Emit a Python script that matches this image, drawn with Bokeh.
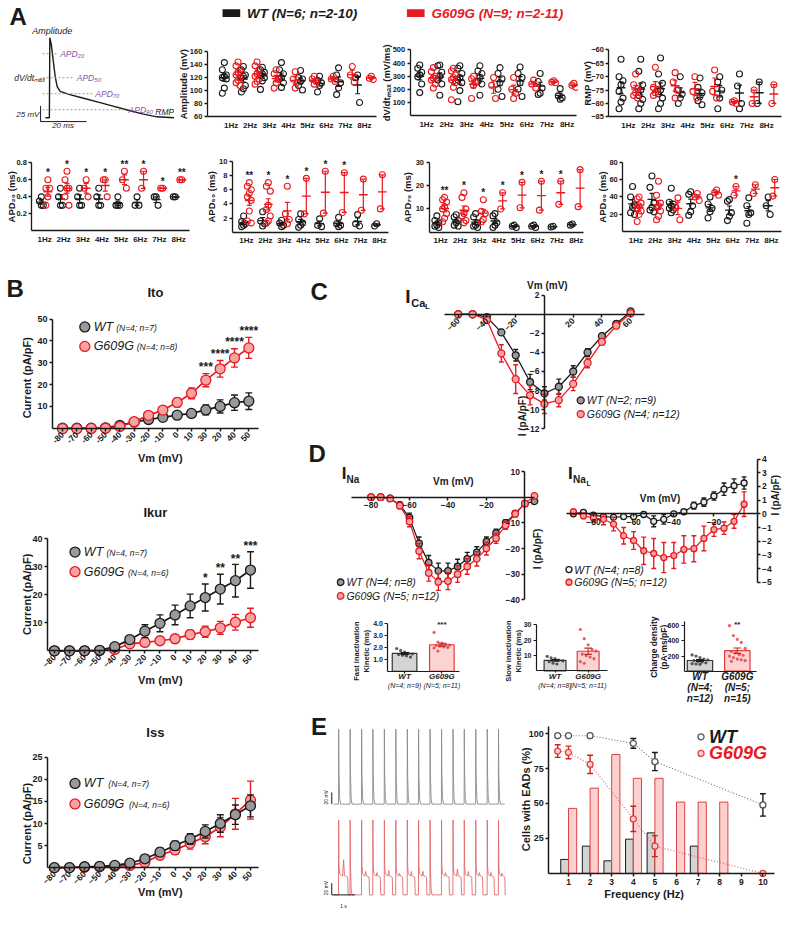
import numpy as np
from bokeh.plotting import figure
from bokeh.models import Range1d, LinearAxis, FixedTicker
from bokeh.layouts import row, column
from bokeh.core.properties import value
from bokeh.embed import file_html
from bokeh.resources import INLINE

# ============================ DATA ============================
freq = [1, 2, 3, 4, 5, 6, 7, 8]
freq_labels = ["1Hz", "2Hz", "3Hz", "4Hz", "5Hz", "6Hz", "7Hz", "8Hz"]

amp_wt = [[143, 132, 124, 122, 120, 118, 104, 96], [137, 132, 124, 122, 120, 108, 103, 98],
          [136, 132, 128, 126, 124, 120, 115, 102], [143, 132, 126, 120, 118, 112, 105],
          [131, 120, 118, 114, 108, 101], [122, 116, 112, 108, 98], [135, 124, 112, 104, 94], [124, 120, 82]]
amp_g = [[144, 138, 132, 128, 124, 120, 116, 112, 108], [144, 138, 132, 126, 122, 118, 114, 110],
         [132, 126, 118, 112, 104], [129, 118, 112, 104], [122, 118, 114, 110], [122, 118, 114],
         [137, 124, 113], [122, 119, 117]]
dvdt_wt = [[385, 360, 330, 310, 295, 240, 175], [385, 380, 330, 300, 270, 240, 155],
           [380, 360, 320, 290, 270, 250, 190, 105], [380, 340, 320, 290, 260, 240, 155],
           [365, 320, 280, 250, 200, 145], [370, 320, 290, 250, 200, 145], [320, 260, 210, 170, 160],
           [205, 150, 135, 125]]
dvdt_g = [[365, 335, 300, 285, 270, 240, 210], [360, 340, 310, 290, 275, 250, 215, 120],
          [300, 280, 250, 230, 130], [290, 230, 130], [290, 200, 170, 130], [270, 240, 210],
          [265, 255, 250], [245, 230, 215]]
rmp_wt = [[-63.5, -70, -71.5, -73, -75.5, -78, -79.5, -82], [-63.5, -68, -73, -75, -77, -78.5, -80, -82],
          [-63, -69, -72.5, -75, -76.5, -78, -80, -82], [-70, -75, -76.5, -78, -80],
          [-70.5, -74, -76, -77.5, -79, -80.5], [-70, -72, -75, -78, -82], [-69, -73.5, -80, -82], [-72, -80]]
rmp_g = [[-69, -73, -74.5, -76, -77, -78], [-66.5, -74, -75, -76, -77], [-68.5, -72, -75, -78],
         [-70, -75.5, -78], [-67.5, -75.5, -78], [-79, -79.5, -80], [-75, -80], [-73, -80]]

apd20_wt = [[0.4, 0.35, 0.3, 0.3], [0.5, 0.4, 0.3, 0.3], [0.5, 0.4, 0.3, 0.3], [0.5, 0.4, 0.3, 0.3],
            [0.4, 0.3, 0.3, 0.3], [0.4, 0.3, 0.3], [0.4, 0.4, 0.3], [0.4, 0.4]]
apd20_g = [[0.6, 0.5, 0.5, 0.4, 0.3], [0.7, 0.6, 0.5, 0.5, 0.4, 0.3], [0.6, 0.5, 0.4], [0.6, 0.6, 0.4],
           [0.7, 0.6, 0.5], [0.7, 0.5], [0.5, 0.5], [0.6, 0.6]]
apd20_sig = ["*", "*", "*", "*", "**", "*", "*", "**"]
apd50_wt = [[2.3, 1.5, 1.2, 1.0, 0.8], [2.9, 1.6, 1.2, 0.9], [1.7, 1.3, 1.0, 0.8], [2.6, 1.8, 1.3, 1.0, 0.7],
            [1.9, 1.0, 0.8], [2.1, 1.2, 1.0, 0.8], [2.5, 1.2, 0.9], [1.2, 0.9]]
apd50_g = [[7.0, 6.5, 6.0, 5.5, 5.0, 4.5, 3.0, 1.6, 1.3], [7.0, 6.5, 5.8, 3.8, 3.2, 2.3, 1.6, 1.3],
           [6.5, 2.6, 1.8, 1.2], [7.6, 2.6], [8.6, 2.7], [8.4, 2.8], [7.5, 3.1], [8.1, 3.3]]
apd50_sig = ["**", "*", "*", "*", "*", "*", "", ""]
apd70_wt = [[7, 5, 4, 3, 2.5, 2], [7.5, 6.5, 5, 4, 3, 2.5], [8, 6.5, 4, 3, 2.5, 2], [8, 7, 4, 3, 2],
            [3, 2.5, 2], [3, 2.5, 2], [2.5, 2.2], [3.5, 3]]
apd70_g = [[15, 14, 13, 11, 10, 8, 6, 4.5], [17, 15, 10, 8, 7, 5, 4], [14, 9, 8, 5.5, 4.5], [17, 10],
           [21.5, 10.5], [22, 9.5], [22, 12], [27, 11]]
apd70_sig = ["**", "*", "*", "*", "*", "*", "*", ""]
apd90_wt = [[52, 40, 31, 28, 22, 20], [64, 51, 33, 28, 25, 23], [50, 34, 32, 30, 27, 25, 22],
            [46, 43, 30, 23, 19], [40, 32, 27, 23, 16], [37, 35, 22, 18, 13], [39, 30, 22, 20, 10], [40, 30, 20]]
apd90_g = [[40, 38, 33, 30, 27, 24, 20, 12], [58, 42, 33, 30, 28, 24, 18, 14], [39, 28, 14], [44, 40, 36],
           [48, 45, 42], [52, 42], [54, 44], [60, 41]]
apd90_sig = ["", "", "", "", "", "*", "", ""]

# AP schematic (ms, mV)
ap_t = [-1.7, 0, 0.2, 0.85, 1.7, 2.55, 3.4, 4.7, 8.5, 14.9, 21.3, 27.7, 34, 40.4, 46.8, 55.3]
ap_v = [-80, -80, 48, 37, 10.6, -14.4, -30, -37.8, -42.5, -48.8, -55, -61.3, -67.5, -73.8, -78.4, -80]
apd_levels = [20, 50, 70, 90]
apd_names = ["APD\u2082\u2080", "APD\u2085\u2080", "APD\u2087\u2080", "APD\u2089\u2080"]
scale_mv, scale_ms = 25, 20

# Panel B (Vm in mV, current in pA/pF)
vm14 = [-80, -70, -60, -50, -40, -30, -20, -10, 0, 10, 20, 30, 40, 50]
ito_xlabels = ["-80", "-70", "-60", "-50", "-40", "-30", "-20", "-10", "0", "10", "30", "20", "40", "50"]
ito_wt = [0, 0, 0, 0.2, 1.3, 2.8, 4.0, 5.0, 6.0, 6.8, 8.4, 10.0, 11.7, 12.4]
ito_wt_e = [0.2, 0.2, 0.2, 0.3, 0.4, 0.6, 0.8, 1.0, 1.2, 1.7, 2.3, 3.0, 3.5, 3.8]
ito_g = [-0.2, -0.2, -0.1, 0, 0.8, 3.0, 5.9, 8.3, 11.8, 16.0, 22.0, 27.2, 32.2, 36.8]
ito_g_e = [0.2, 0.2, 0.2, 0.3, 0.4, 0.7, 1.0, 1.5, 2.0, 2.5, 3.0, 3.8, 4.2, 4.8]
ito_sig = ["", "", "", "", "", "", "", "", "", "", "***", "****", "****", "****"]

ikur_wt = [0, 0, 0, 0.2, 1.5, 4.0, 7.0, 9.8, 12.8, 16.0, 19.0, 22.0, 25.0, 28.8]
ikur_wt_e = [0.2, 0.2, 0.2, 0.3, 0.5, 1.2, 2.3, 3.0, 3.5, 4.2, 4.8, 5.3, 5.8, 6.5]
ikur_g = [0, 0, 0, 0.1, 0.5, 2.5, 3.0, 3.6, 4.3, 5.8, 6.8, 8.2, 10.2, 11.8]
ikur_g_e = [0.2, 0.2, 0.2, 0.2, 0.4, 0.8, 1.0, 1.2, 1.4, 1.6, 2.0, 2.3, 2.8, 3.4]
ikur_sig = ["", "", "", "", "", "", "", "", "", "", "*", "**", "**", "***"]

iss_wt = [0, 0, 0.2, 0.3, 0.5, 1.0, 2.0, 3.5, 5.0, 6.5, 8.2, 10.0, 12.0, 14.0]
iss_wt_e = [0.2, 0.2, 0.2, 0.3, 0.4, 0.5, 0.7, 0.9, 1.0, 1.2, 1.5, 2.0, 2.2, 2.5]
iss_g = [0, 0, 0.1, 0.2, 0.3, 0.5, 1.2, 2.8, 4.0, 5.5, 7.0, 9.2, 12.2, 15.3]
iss_g_e = [0.2, 0.2, 0.2, 0.2, 0.3, 0.4, 0.6, 0.8, 1.0, 1.3, 1.6, 2.2, 3.5, 4.3]

# Panel C
cal_vm = [-60, -50, -40, -30, -20, -10, 0, 10, 20, 30, 40, 50, 60]
cal_wt = [0, 0, -0.3, -1.9, -4.3, -7.1, -8.3, -7.6, -6.0, -4.0, -2.3, -1.0, 0.3]
cal_wt_e = [0.05, 0.05, 0.2, 0.3, 0.6, 0.8, 0.7, 0.8, 0.6, 0.4, 0.3, 0.2, 0.1]
cal_g = [0, 0, -0.6, -4.1, -6.8, -8.5, -9.4, -9.0, -7.3, -5.1, -2.9, -1.2, 0.1]
cal_g_e = [0.05, 0.05, 0.2, 0.9, 1.5, 1.0, 1.0, 0.7, 0.7, 0.5, 0.3, 0.2, 0.1]

# Panel D
ina_vm = [-80, -75, -70, -65, -60, -55, -50, -45, -40, -35, -30, -25, -20, -15, -10, -5, 0, 5]
ina_wt = [0, 0, -0.5, -3, -8, -18, -25.5, -28.7, -28.7, -27, -24, -21.5, -17.3, -14, -10, -6.3, -2.5, -1.6]
ina_wt_e = [0.3, 0.3, 0.5, 1, 1.8, 2.5, 2.8, 3, 3, 2.8, 2.5, 2.2, 1.8, 1.5, 1.2, 1, 0.8, 0.6]
ina_g = [0, 0, -0.5, -3.3, -9.5, -21, -29.5, -33, -32.7, -30, -27, -24, -20, -16, -11, -6.5, -2.5, 0.5]
ina_g_e = [0.3, 0.3, 0.5, 1.2, 2, 3, 3.2, 3.3, 3.3, 3.2, 3, 2.8, 2.5, 2, 1.5, 1.2, 1, 0.8]

inal_vm = [-90, -85, -80, -75, -70, -65, -60, -55, -50, -45, -40, -35, -30, -25, -20, -15, -10, -5]
inal_wt = [0, 0.1, -0.1, -0.2, -0.25, -0.2, -0.2, -0.05, -0.55, -0.4, 0, 0.15, 0.6, 0.85, 1.3, 1.8, 2.05, 2.25]
inal_wt_e = [0.1, 0.15, 0.1, 0.15, 0.15, 0.15, 0.15, 0.15, 0.4, 0.35, 0.1, 0.15, 0.25, 0.3, 0.3, 0.45, 0.5, 0.45]
inal_g = [0.15, -0.15, -0.3, -0.4, -0.75, -1.6, -1.95, -2.7, -2.9, -3.2, -3.05, -2.6, -2.55, -1.8, -1.15, -1.05, -0.55, 0.7]
inal_g_e = [0.1, 0.2, 0.3, 0.4, 0.5, 0.6, 0.65, 1.0, 1.1, 1.1, 0.95, 1.0, 0.95, 0.9, 0.5, 0.45, 0.5, 0.9]

fast_wt = [1.9, 1.75, 1.6, 1.5, 1.45, 1.4, 1.35, 1.3, 1.2]
fast_g = [3.25, 2.45, 2.35, 2.25, 2.2, 2.15, 2.1, 2.05, 2.0, 1.95, 1.7]
slow_wt = [9.5, 8.5, 8, 7, 6.5, 6, 5, 4.5]
slow_g = [27, 21, 17, 14, 13, 11, 10, 9, 8, 6, 5]
charge_wt = [215, 200, 180, 160, 150, 140, 130, 120, 110, 100, 95, 90]
charge_g = [600, 470, 420, 380, 300, 260, 240, 220, 210, 200, 180, 160, 150, 140, 130]

# Panel E
wt_spikes = [0.21, 0.71, 1.21, 1.70, 2.20, 2.70, 3.20, 3.69, 4.19, 4.69, 5.19, 5.68, 6.18, 6.68, 7.17]
g_spikes = [0.21, 0.71, 1.21, 1.70, 2.20, 2.70, 3.20, 3.69, 4.19, 4.69, 5.19, 5.68, 6.18, 6.68, 7.17]
g_plateau = [0.40, 0.0, 0.33, 0.33, 0.35, 0.30, 0.33, 0.35, 0.0, 0.33, 0.36, 0.33, 0.30, 0.30, 0.28]
g_ead_bump = [28, 0, 8, 6, 10, 5, 8, 8, 0, 6, 12, 8, 6, 6, 5]
trace_end = 7.45

ead_f = [1, 2, 3, 4, 5, 6, 7, 8, 9, 10]
ead_wt_bar = [10, 19.5, 9, 24.5, 29, 0, 19.5, 0, 0, 0]
ead_g_bar = [46.5, 61, 85, 68, 68, 51, 51, 51, 0, 0]
line_f = [0.5, 1, 2, 4, 5, 10]
wt_line = [98.5, 98.5, 98.5, 93, 80, 49]
wt_line_e = [0, 0, 0, 3.5, 6.5, 8]
g_line = [87.5, 86.5, 78, 39, 19.5, 0]
g_line_e = [4.5, 4.5, 6.5, 9, 7.5, 0]

# ============================ STYLE / HELPERS ============================
FONT = "Liberation Sans"
BLK = "#1a1a1a"
RED = "#e8191f"
GREY_FILL = "#9a9a9a"
PINK_FILL = "#f6a3a3"
PURPLE = "#7f55b0"
S = 0.98


class Panel:
    def __init__(self, x0, x1, y0, y1, xmap=(0, 0, 1, 1), ymap=(0, 0, 1, 1)):
        self.x0, self.x1, self.y0, self.y1 = x0, x1, y0, y1
        self.kx = (xmap[2] - xmap[0]) / (xmap[3] - xmap[1])
        self.xa = xmap[:2]
        self.ky = (ymap[2] - ymap[0]) / (ymap[3] - ymap[1])
        self.ya = ymap[:2]
        w = round(x1 * S) - round(x0 * S)
        h = round(y1 * S) - round(y0 * S)
        self.p = figure(width=w, height=h,
                        x_range=Range1d(self.X(x0), self.X(x1)),
                        y_range=Range1d(self.Y(y1), self.Y(y0)),
                        x_axis_type=None, y_axis_type=None, title=None,
                        output_backend="svg", toolbar_location=None, min_border=0)
        self.p.outline_line_color = None

    def X(self, px):
        return self.xa[0] + (px - self.xa[1]) * self.kx

    def Y(self, py):
        return self.ya[0] + (py - self.ya[1]) * self.ky

    def PY(self, v):
        return self.ya[1] + (v - self.ya[0]) / self.ky

    def dx(self, n):
        return n * self.kx

    def dy(self, n):
        return -n * self.ky


def txt(P, px, py, s, size=10, color=BLK, style="bold", align="center", base="middle", angle=0.0):
    P.p.text(x=[P.X(px)], y=[P.Y(py)], text=[s], text_font=value(FONT), text_font_size=f"{size}px",
             text_font_style=style, text_color=color, text_align=align, text_baseline=base, angle=angle)


def axis(P, side, loc, bounds, ticks, overrides=None, size=9, orient="horizontal", tick_out=3, lw=1.5,
         standoff=2):
    ax = LinearAxis(fixed_location=loc, bounds=bounds, ticker=FixedTicker(ticks=ticks))
    ax.axis_line_width = lw
    ax.axis_line_color = BLK
    ax.major_tick_line_width = lw
    ax.major_tick_line_color = BLK if tick_out > 0 else None
    ax.major_tick_out = tick_out
    ax.major_tick_in = 0
    ax.minor_tick_line_color = None
    ax.major_label_text_font = FONT
    ax.major_label_text_font_size = f"{size}px"
    ax.major_label_text_font_style = "bold"
    ax.major_label_text_color = BLK
    ax.major_label_standoff = standoff
    ax.major_label_orientation = orient
    if overrides:
        ax.major_label_overrides = overrides
    P.p.add_layout(ax, side)
    return ax


def errbars(P, xs, ms, es, color, cap_px=3.0, lw=1.2):
    x = np.asarray(xs, float)
    m = np.asarray(ms, float)
    e = np.asarray(es, float)
    cw = P.dx(cap_px)
    P.p.segment(x, m - e, x, m + e, line_color=color, line_width=lw)
    P.p.segment(x - cw, m + e, x + cw, m + e, line_color=color, line_width=lw)
    P.p.segment(x - cw, m - e, x + cw, m - e, line_color=color, line_width=lw)


JIT = [0.0, -2.0, 2.0]


def dot_plot(P, ax_px, right_px, ybot, ytop, yticks, wt, g, off, ylab, ylab_px, sig=None):
    xa = P.X(ax_px)
    axis(P, "left", xa, (ybot, ytop), yticks, size=7.5, lw=1.3)
    axis(P, "below", ybot, (xa, P.X(right_px)), freq, overrides=dict(zip(freq, freq_labels)), tick_out=0,
         standoff=4, size=8, lw=1.3)
    for groups, sgn, col in ((wt, -1, BLK), (g, 1, RED)):
        xs, ys, mx, mm, me = [], [], [], [], []
        for f, vals in zip(freq, groups):
            c = f + sgn * off
            for j, v in enumerate(vals):
                xs.append(c + P.dx(JIT[j % 3]))
                ys.append(v)
            a = np.asarray(vals, float)
            mx.append(c)
            mm.append(a.mean())
            me.append(a.std(ddof=1) / np.sqrt(len(a)) if len(a) > 1 else 0.0)
        P.p.scatter(xs, ys, size=6, marker="circle", fill_color=None, line_color=col, line_width=1.1)
        mx = np.asarray(mx)
        mm = np.asarray(mm)
        hw = P.dx(4.5)
        P.p.segment(mx - hw, mm, mx + hw, mm, line_color=col, line_width=1.4)
        errbars(P, mx, mm, me, col, cap_px=2.5, lw=1.2)
    if sig:
        for f, vals, s in zip(freq, g, sig):
            if s:
                P.p.text(x=[f + off], y=[max(vals) + P.dy(7)], text=[s], text_font=value(FONT),
                         text_font_size="10px", text_font_style="bold", text_color=BLK,
                         text_align="center", text_baseline="middle")
    ymid_px = (P.PY(ybot) + P.PY(ytop)) / 2
    txt(P, ylab_px, ymid_px, ylab, size=9.5, angle=np.pi / 2)


def iv_series(P, vm, m, e, col, fill, size, cap_px, lw=1.6):
    P.p.line(vm, m, line_color=col, line_width=lw)
    errbars(P, vm, m, e, col, cap_px, lw=1.4)
    P.p.scatter(vm, m, size=size, marker="circle", fill_color=fill, line_color=col, line_width=1.3)


def legend_entry(P, px, py, col, fill, size, label, lsize, lcolor=BLK, style="italic", gap=None):
    P.p.scatter([P.X(px)], [P.Y(py)], size=size, marker="circle", fill_color=fill, line_color=col,
                line_width=1.3)
    g = size * 0.9 if gap is None else gap
    txt(P, px + g, py, label, size=lsize, color=lcolor, style=style, align="left")


def stars(P, xs, tops, sig, pad_px, size=12):
    for x, t, s in zip(xs, tops, sig):
        if s:
            P.p.text(x=[x], y=[t + P.dy(pad_px)], text=[s], text_font=value(FONT), text_font_size=f"{size}px",
                     text_font_style="bold", text_color=BLK, text_align="center", text_baseline="middle")


# ============================ PANEL A ============================
TOP_B = 134
F_ap = Panel(0, 178, 0, TOP_B, xmap=(0, 50, 20, 97), ymap=(-80, 120, -55, 104))
p = F_ap.p
txt(F_ap, 18, 16, "A", size=24)
p.line(ap_t, ap_v, line_color=BLK, line_width=1.4)
peak, rest = max(ap_v), ap_v[0]
apd_end_px = [58, 75, 94, 128]
for lvl, nm, e_px in zip(apd_levels, apd_names, apd_end_px):
    lv = peak - lvl / 100 * (peak - rest)
    p.line([F_ap.X(43), F_ap.X(e_px)], [lv, lv], line_color="#9a9a9a", line_width=1, line_dash="2 2")
    p.text(x=[F_ap.X(e_px + 3)], y=[lv], text=[nm], text_font=value(FONT), text_font_size="8.5px",
           text_font_style="italic", text_color=PURPLE, text_align="left", text_baseline="middle")
sb_x, sb_v = F_ap.X(41), rest - 6
p.line([sb_x, sb_x, sb_x + scale_ms], [sb_v + scale_mv, sb_v, sb_v], line_color=BLK, line_width=1)
txt(F_ap, 53, 31, "Amplitude", size=9, style="italic")
txt(F_ap, 30, 79, "dV/dt\u2098\u2090\u2093", size=8.5, style="italic")
txt(F_ap, 168, 114, "RMP", size=8.5, style="italic")
txt(F_ap, 28, 117, f"{scale_mv} mV", size=8, style="italic")
txt(F_ap, 64, 128, f"{scale_ms} ms", size=8, style="italic")

F_leg = Panel(178, 800, 0, 38)
F_leg.p.rect([236], [13], width=18, height=8, fill_color=BLK, line_color=None)
txt(F_leg, 252, 13, "WT (N=6; n=2-10)", size=13.5, style="bold italic", align="left")
F_leg.p.rect([424], [13], width=18, height=8, fill_color=RED, line_color=None)
txt(F_leg, 440, 13, "G609G (N=9; n=2-11)", size=13.5, color=RED, style="bold italic", align="left")

F_amp = Panel(178, 386, 38, TOP_B, xmap=(1, 235.8, 8, 371.7), ymap=(160, 52.3, 60, 119))
dot_plot(F_amp, 211.5, 384, 60, 160, [60, 80, 100, 120, 140, 160], amp_wt, amp_g, 0.36,
         "Amplitude (mV)", 187)
F_dvdt = Panel(386, 590, 38, TOP_B, xmap=(1, 435, 8, 578.3), ymap=(500, 50.7, 100, 104.3))
dot_plot(F_dvdt, 418.3, 588, 0, 500, [100, 200, 300, 400, 500], dvdt_wt, dvdt_g, 0.34,
         "dV/dt\u2098\u2090\u2093 (mV/ms)", 394)
F_rmp = Panel(590, 800, 38, TOP_B, xmap=(1, 640.8, 8, 781.7), ymap=(-60, 50.7, -85, 119))
dot_plot(F_rmp, 621, 797, -85, -60, [-85, -80, -75, -70, -65, -60], rmp_wt, rmp_g, 0.37,
         "RMP (mV)", 599)

F_a20 = Panel(0, 200, TOP_B, 262, xmap=(1, 45, 8, 181.7), ymap=(0.8, 165.7, 0.2, 217.7))
dot_plot(F_a20, 32, 193, 0, 0.8, [0.2, 0.4, 0.6, 0.8], apd20_wt, apd20_g, 0.17,
         "APD\u2082\u2080 (ms)", 11, apd20_sig)
F_a50 = Panel(200, 400, TOP_B, 262, xmap=(1, 251, 8, 386.7), ymap=(10, 164.3, 2, 222))
dot_plot(F_a50, 236.7, 396, 0, 10, [2, 4, 6, 8, 10], apd50_wt, apd50_g, 0.15,
         "APD\u2085\u2080 (ms)", 215, apd50_sig)
F_a70 = Panel(400, 600, TOP_B, 262, xmap=(1, 449.2, 8, 587.5), ymap=(30, 165.7, 10, 212.7))
dot_plot(F_a70, 437.3, 595, 0, 30, [10, 20, 30], apd70_wt, apd70_g, 0.2,
         "APD\u2087\u2080 (ms)", 415, apd70_sig)
F_a90 = Panel(600, 800, TOP_B, 262, xmap=(1, 648.3, 8, 786.7), ymap=(80, 165, 20, 218.3))
dot_plot(F_a90, 635, 797, 0, 80, [20, 40, 60, 80], apd90_wt, apd90_g, 0.17,
         "APD\u2089\u2080 (ms)", 614, apd90_sig)


# ============================ PANEL B ============================
def ik_panel(P, y_axis_px, ytop, yticks, wm, we, gm, ge, sig, title, title_py, ylab_py, vm_py,
             leg, letter=False, xlabels=None, first="w", star_pad=7):
    axis(P, "left", P.X(y_axis_px), (0, ytop), yticks, size=9)
    ov = dict(zip(vm14, xlabels)) if xlabels else None
    axis(P, "below", 0, (P.X(y_axis_px), P.X(263)), vm14, overrides=ov, orient=np.pi / 4, size=8.5)
    order = [(wm, we, BLK, GREY_FILL), (gm, ge, RED, PINK_FILL)]
    if first == "g":
        order = order[::-1]
    for m, e, col, fill in order:
        iv_series(P, vm14, m, e, col, fill, 10, 3.5, lw=1.7)
    tops = [max(a + b, c + d) for a, b, c, d in zip(wm, we, gm, ge)]
    stars(P, vm14, tops, sig, star_pad)
    txt(P, 158, title_py, title, size=13)
    if letter:
        txt(P, 15, 294, "B", size=24)
    txt(P, 27, ylab_py, "Current (pA/pF)", size=11, angle=np.pi / 2)
    txt(P, 163, vm_py, "Vm (mV)", size=11)
    for (px, py, col, fill, lab, sub, sub_px) in leg:
        legend_entry(P, px, py, col, fill, 10, lab, 12.5)
        txt(P, sub_px, py + 1, sub, size=8.5, style="italic", align="left")


F_ito = Panel(0, 305, 262, 482, xmap=(-80, 63.3, 50, 253.3), ymap=(50, 325, 0, 436.7))
ik_panel(F_ito, 53, 50, [10, 20, 30, 40, 50], ito_wt, ito_wt_e, ito_g, ito_g_e, ito_sig, "Ito", 298, 385,
         467, [(86, 333, BLK, GREY_FILL, "WT", "(N=4; n=7)", 118),
               (86, 353, RED, PINK_FILL, "G609G", "(N=4; n=8)", 139)],
         letter=True, xlabels=ito_xlabels)
F_ikur = Panel(0, 305, 482, 707, xmap=(-80, 55, 50, 255), ymap=(40, 549.3, 10, 635))
ik_panel(F_ikur, 48, 40, [10, 20, 30, 40], ikur_wt, ikur_wt_e, ikur_g, ikur_g_e, ikur_sig, "Ikur", 523, 606,
         693, [(76, 563, BLK, GREY_FILL, "WT", "(N=4, n=7)", 108),
               (76, 583, RED, PINK_FILL, "G609G", "(N=4, n=6)", 130)], first="g", star_pad=6)
F_iss = Panel(0, 305, 707, 929, xmap=(-80, 55, 50, 255), ymap=(25, 772.3, 10, 840))
ik_panel(F_iss, 48, 25, [5, 10, 15, 20, 25], iss_wt, iss_wt_e, iss_g, iss_g_e, [""] * 14, "Iss", 747, 840,
         910, [(76, 799, BLK, GREY_FILL, "WT", "(N=4, n=7)", 110),
               (76, 820, RED, PINK_FILL, "G609G", "(N=4, n=6)", 131)], first="g")

# ============================ PANEL C ============================
F_cal = Panel(305, 800, 262, 448, xmap=(0, 555, -60, 467), ymap=(0, 320, -12, 437))
axis(F_cal, "below", 0, (F_cal.X(453), F_cal.X(657)), [-60, -40, -20, 20, 40, 60], orient=np.pi / 4,
     size=8.5)
axis(F_cal, "left", 0, (-12, 2), [2, -2, -4, -6, -8, -10, -12], size=8.5)
iv_series(F_cal, cal_vm, cal_wt, cal_wt_e, BLK, GREY_FILL, 7, 2.5, lw=1.3)
iv_series(F_cal, cal_vm, cal_g, cal_g_e, RED, PINK_FILL, 7, 2.5, lw=1.3)
txt(F_cal, 325, 297, "C", size=24)
txt(F_cal, 413, 302, "I", size=19, align="left")
txt(F_cal, 419, 308, "Ca", size=11, align="left")
txt(F_cal, 433, 312, "L", size=8, align="left")
txt(F_cal, 558, 291, "Vm (mV)", size=10)
txt(F_cal, 533, 424, "I (pA/pF)", size=10, angle=np.pi / 2)
legend_entry(F_cal, 592, 408, BLK, GREY_FILL, 7, "WT (N=2; n=9)", 10.5)
legend_entry(F_cal, 592, 422, RED, PINK_FILL, 7, "G609G (N=4; n=12)", 10.5)

# ============================ PANEL D ============================
F_ina = Panel(305, 555, 448, 628, xmap=(-80, 378, 0, 535), ymap=(0, 507, -40, 612))
axis(F_ina, "below", 0, (F_ina.X(358), F_ina.X(545)), [-80, -60, -40, -20], size=8.5)
axis(F_ina, "left", 0, (-40, 10), [10, -10, -20, -30, -40], size=8.5)
iv_series(F_ina, ina_vm, ina_wt, ina_wt_e, BLK, GREY_FILL, 6.5, 2.5, lw=1.2)
iv_series(F_ina, ina_vm, ina_g, ina_g_e, RED, PINK_FILL, 6.5, 2.5, lw=1.2)
txt(F_ina, 323, 462, "D", size=24)
txt(F_ina, 348, 483, "I", size=17, align="left")
txt(F_ina, 353, 489, "Na", size=10, align="left")
txt(F_ina, 462, 491, "Vm (mV)", size=10)
txt(F_ina, 548, 560, "I (pA/pF)", size=10, angle=np.pi / 2)
legend_entry(F_ina, 347, 594, BLK, GREY_FILL, 6.5, "WT (N=4; n=8)", 10.5)
legend_entry(F_ina, 347, 608, RED, PINK_FILL, 6.5, "G609G (N=5; n=12)", 10.5)

F_inal = Panel(555, 800, 448, 628, xmap=(-80, 605, -20, 728), ymap=(0, 524, -5, 594))
axis(F_inal, "below", 0, (F_inal.X(577), F_inal.X(772)), [-80, -60, -40, -20], size=8.5)
axis(F_inal, "right", F_inal.X(772), (-5, 4), [-5, -4, -3, -2, -1, 0, 1, 2, 3, 4], size=8.5)
iv_series(F_inal, inal_vm, inal_wt, inal_wt_e, BLK, "#e8e8e8", 6, 2.5, lw=1.2)
iv_series(F_inal, inal_vm, inal_g, inal_g_e, RED, PINK_FILL, 6, 2.5, lw=1.2)
txt(F_inal, 579, 483, "I", size=17, align="left")
txt(F_inal, 584, 489, "Na", size=10, align="left")
txt(F_inal, 598, 493, "L", size=7, align="left")
txt(F_inal, 673, 508, "Vm (mV)", size=10)
txt(F_inal, 791, 505, "I (pA/pF)", size=10, angle=np.pi / 2)
legend_entry(F_inal, 580, 581, BLK, "white", 6, "WT (N=4; n=8)", 10.5)
legend_entry(F_inal, 580, 594, RED, PINK_FILL, 6, "G609G (N=5; n=12)", 10.5)


def bar_panel(P, ax_px, right_px, ytop, yticks, wt, g, bw, ylab1, ylab2, ylab_px, lab_size, cats, sig,
              overrides=None, ylab_py=664, ylab_size=7.5):
    axis(P, "left", P.X(ax_px), (0, ytop), yticks, overrides=overrides, size=7, lw=1.2)
    axis(P, "below", 0, (P.X(ax_px), P.X(right_px)), [1, 2], overrides={1: "", 2: ""}, lw=1.2, tick_out=2)
    for xc, vals, col, fill in ((1, wt, "#333333", "#d4d4d4"), (2, g, "#e23b3b", "#fbd3d3")):
        a = np.asarray(vals, float)
        m = a.mean()
        se = a.std(ddof=1) / np.sqrt(len(a))
        P.p.vbar(x=[xc], top=[m], bottom=0, width=bw, fill_color=fill, line_color=col, line_width=1.2)
        jit = [P.dx(o) for o in (-8, -4, 0, 4, 8, -6, -2, 2, 6)]
        xs = [xc + jit[i % len(jit)] for i in range(len(vals))]
        P.p.scatter(xs, vals, size=3.2, marker="circle", fill_color=col, line_color=None, alpha=0.8)
        errbars(P, [xc], [m], [se], BLK if xc == 1 else "#c62828", cap_px=4, lw=1.1)
    txt(P, ylab_px, ylab_py, ylab1, size=ylab_size, angle=np.pi / 2)
    txt(P, ylab_px + 10, ylab_py, ylab2, size=ylab_size, angle=np.pi / 2)
    for xc, lines in cats:
        for k, (s, st) in enumerate(lines):
            P.p.text(x=[xc], y=[P.Y(690 + k * lab_size[1])], text=[s], text_font=value(FONT),
                     text_font_size=f"{lab_size[0] if k == 0 else lab_size[2]}px", text_font_style=st,
                     text_color=BLK, text_align="center", text_baseline="middle")
    if sig:
        P.p.text(x=[2], y=[P.Y(637)], text=[sig], text_font=value(FONT), text_font_size="8px",
                 text_font_style="bold", text_color=BLK, text_align="center", text_baseline="middle")


F_b1 = Panel(305, 470, 628, 722, xmap=(1, 412, 2, 450), ymap=(0, 684.5, 4, 636))
bar_panel(F_b1, 395, 468, 4, [1, 2, 3, 4], fast_wt, fast_g, 0.66, "Fast inactivation", "Kinetic (ms)", 363,
          (8, 9, 7), [(1, [("WT", "bold italic"), ("(N=4; n=9)", "italic")]),
                      (2, [("G609G", "bold italic"), ("(N=5; n=11)", "italic")])], "***",
          overrides={1: "1.0", 2: "2.0", 3: "3.0", 4: "4.0"})
F_b2 = Panel(470, 625, 628, 722, xmap=(1, 566, 2, 600), ymap=(0, 684, 30, 637.5))
bar_panel(F_b2, 547, 620, 30, [10, 20, 30], slow_wt, slow_g, 0.66, "Slow inactivation", "Kinetic (ms)", 518,
          (8, 9, 7), [(1, [("WT", "bold italic"), ("(N=4; n=8)", "italic")]),
                      (2, [("G609G", "bold italic"), ("(N=5; n=11)", "italic")])], "")
F_b3 = Panel(625, 800, 628, 722, xmap=(1, 714, 2, 752), ymap=(0, 684.3, 600, 638.3))
bar_panel(F_b3, 698, 772, 650, [200, 400, 600], charge_wt, charge_g, 0.68, "Charge density", "(pA\u00b7ms/pF)",
          667, (10, 11, 10), [(1, [("WT", "bold italic"), ("(N=4;", "bold italic"), ("n=12)", "bold italic")]),
                              (2, [("G609G", "bold italic"), ("(N=5;", "bold italic"), ("n=15)", "bold italic")])],
          "**", ylab_py=660, ylab_size=8.5)

# ============================ PANEL E ============================
F_tr = Panel(305, 525, 722, 929, xmap=(0, 340, 1, 363.5), ymap=(-80, 820, -60, 808))
G_OFF = -155.0


def build_trace(spikes, plateaus, bumps, end):
    t, v = [0.0], [-80.0]
    for s, d, b in zip(spikes, plateaus, bumps):
        t += [s, s + 0.006, s + 0.02]
        v += [-80, 48, -30]
        if d > 0:
            t += [s + 0.045, s + d * 0.45, s + d * 0.55, s + d * 0.65, s + d, s + d + 0.02]
            v += [-44, -48, -48 + b, -47, -50, -80]
        else:
            t += [s + 0.05, s + 0.09]
            v += [-70, -80]
    t.append(end)
    v.append(-80.0)
    return t, v


wt_t, wt_v = build_trace(wt_spikes, [0] * len(wt_spikes), [0] * len(wt_spikes), trace_end)
g_t, g_v = build_trace(g_spikes, g_plateau, g_ead_bump, trace_end)
F_tr.p.line(wt_t, wt_v, line_color="#8a8a8a", line_width=0.9)
F_tr.p.line(g_t, [v + G_OFF for v in g_v], line_color="#e06a6a", line_width=0.9)
xb = F_tr.X(338)
F_tr.p.line([xb, xb], [-80, -80 + 20], line_color=BLK, line_width=1)
F_tr.p.line([xb, xb, xb + 1], [-60 + G_OFF, -80 + G_OFF, -80 + G_OFF], line_color=BLK, line_width=1)
txt(F_tr, 332, 813, "20 mV", size=5, style="normal", angle=np.pi / 2)
txt(F_tr, 332, 906, "20 mV", size=5, style="normal", angle=np.pi / 2)
txt(F_tr, 350, 924, "1 s", size=5, style="normal")
txt(F_tr, 325, 740, "E", size=24)

F_ead = Panel(525, 800, 722, 929, xmap=(1, 580, 10, 778), ymap=(100, 747.7, 0, 891))
axis(F_ead, "left", F_ead.X(560), (0, 105), [25, 50, 75, 100], size=9)
axis(F_ead, "below", 0, (F_ead.X(560), F_ead.X(790)), ead_f, size=8.5, standoff=3)
wf = [f - 0.18 for f, b in zip(ead_f, ead_wt_bar) if b > 0]
wb = [b for b in ead_wt_bar if b > 0]
gf = [f + 0.19 for f, b in zip(ead_f, ead_g_bar) if b > 0]
gb = [b for b in ead_g_bar if b > 0]
F_ead.p.vbar(x=wf, top=wb, bottom=0, width=0.36, fill_color="#d3d3d3", line_color=BLK, line_width=1)
F_ead.p.vbar(x=gf, top=gb, bottom=0, width=0.38, fill_color="#fbd0d0", line_color="#e04040", line_width=1)
F_ead.p.line(line_f, wt_line, line_color="#6a6a6a", line_width=1.1, line_dash="1 2")
F_ead.p.line(line_f, g_line, line_color="#e06060", line_width=1.1, line_dash="1 2")
errbars(F_ead, [f for f, e in zip(line_f, wt_line_e) if e > 0], [m for m, e in zip(wt_line, wt_line_e) if e > 0],
        [e for e in wt_line_e if e > 0], BLK, cap_px=3, lw=1.4)
errbars(F_ead, [f for f, e in zip(line_f, g_line_e) if e > 0], [m for m, e in zip(g_line, g_line_e) if e > 0],
        [e for e in g_line_e if e > 0], "#d42020", cap_px=3, lw=1.4)
F_ead.p.scatter(line_f, wt_line, size=6, marker="circle", fill_color="white", line_color="#555555", line_width=1.3)
F_ead.p.scatter(line_f, g_line, size=6, marker="circle", fill_color="#fbd0d0", line_color="#e04040",
                line_width=1.3)
legend_entry(F_ead, 715, 751, "#555555", "white", 6, "WT", 18, style="bold italic", gap=8)
legend_entry(F_ead, 715, 768, "#e04040", "#fbd0d0", 6, "G609G", 18, lcolor=RED, style="bold italic", gap=8)
txt(F_ead, 537, 815, "Cells with EADs (%)", size=11, angle=np.pi / 2)
txt(F_ead, 657, 912, "Frequency (Hz)", size=11)

# ============================ LAYOUT ============================
top_right = column(F_leg.p, row(F_amp.p, F_dvdt.p, F_rmp.p))
row1 = row(F_ap.p, top_right)
row2 = row(F_a20.p, F_a50.p, F_a70.p, F_a90.p)
left = column(F_ito.p, F_ikur.p, F_iss.p)
right = column(F_cal.p, row(F_ina.p, F_inal.p), row(F_b1.p, F_b2.p, F_b3.p), row(F_tr.p, F_ead.p))
root = column(row1, row2, row(left, right))

open("out.html", "w").write(file_html(root, INLINE))
